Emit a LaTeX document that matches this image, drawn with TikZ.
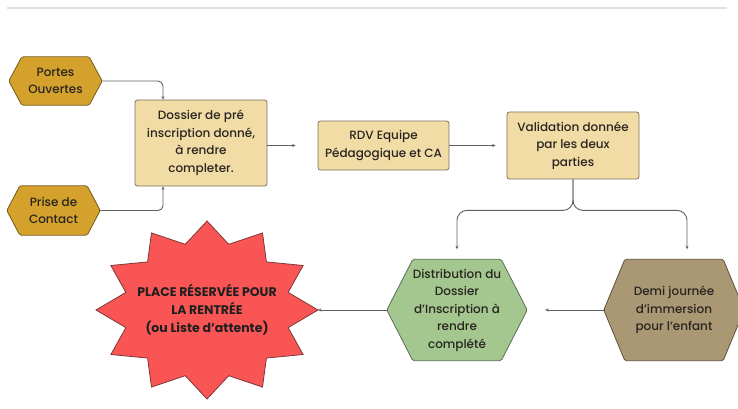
\documentclass[tikz,border=0pt]{standalone}
\usepackage{fontspec}
\setmainfont{Poppins}[UprightFont=* Medium, BoldFont=* Bold]
\usetikzlibrary{arrows.meta,calc,backgrounds}
\definecolor{txt}{RGB}{40,36,32}
\definecolor{boxfill}{RGB}{242,220,166}
\definecolor{boxline}{RGB}{125,112,90}
\definecolor{goldfill}{RGB}{212,162,44}
\definecolor{goldline}{RGB}{115,90,30}
\definecolor{greenfill}{RGB}{163,199,143}
\definecolor{greenline}{RGB}{90,110,80}
\definecolor{brownfill}{RGB}{170,151,116}
\definecolor{brownline}{RGB}{95,82,60}
\definecolor{starfill}{RGB}{250,85,85}
\definecolor{starline}{RGB}{125,55,55}
\definecolor{linec}{RGB}{95,95,95}
\newcommand\hexpath[4]{%
  \draw[fill=#3, draw=#4, line width=0.8pt, rounded corners=1.5pt]
    (#1.west) -- ([xshift=#2]#1.north west) -- ([xshift=-#2]#1.north east)
    -- (#1.east) -- ([xshift=-#2]#1.south east) -- ([xshift=#2]#1.south west) -- cycle;}
\begin{document}
\begin{tikzpicture}[x=1pt,y=-1pt,
  lbl/.style={font=\fontsize{12}{17.5}\selectfont, text=txt, align=center, inner sep=0pt},
  box/.style={lbl, draw=boxline, fill=boxfill, rounded corners=2.5pt, line width=0.8pt},
  hexlbl/.style={lbl, shape=rectangle},
  startext/.style={font=\bfseries\fontsize{12.5}{18}\selectfont, text=black!88, align=center, inner sep=0pt},
  conn/.style={draw=linec, line width=0.9pt, -{Stealth[length=3.5pt,width=3pt]}}
]
\useasboundingbox (0,0) rectangle (738,409);
\clip (0,0) rectangle (738,409);
\draw[line width=1.6pt, black!12] (7,8) -- (727,8);

% nodes
\node[hexlbl, minimum width=93pt, minimum height=48pt] (po) at (55.5,81) {Portes\\Ouvertes};
\node[hexlbl, minimum width=93pt, minimum height=49pt] (pc) at (53.5,210.5) {Prise de\\Contact};
\node[box, minimum width=132pt, minimum height=86pt] (dos) at (201,143) {Dossier de pré\\inscription donné,\\à rendre\\completer.};
\node[box, minimum width=131pt, minimum height=49pt] (rdv) at (383.5,145.5) {RDV Equipe\\Pédagogique et CA};
\node[box, minimum width=132pt, minimum height=67pt] (val) at (573,145.5) {Validation donnée\\par les deux\\parties};
\node[hexlbl, minimum width=140pt, minimum height=101pt] (green) at (457,310) {Distribution du\\Dossier\\d’Inscription à\\rendre\\complété};
\node[hexlbl, minimum width=140pt, minimum height=101pt] (brown) at (674,310) {Demi journée\\d’immersion\\pour l’enfant};
\coordinate (starc) at (207,310);
\coordinate (startip) at ($(starc)+(0:111 and 89)$);
\node[startext] (star) at (starc) {PLACE RÉSERVÉE POUR\\LA RENTRÉE\\(ou Liste d’attente)};

\begin{scope}[on background layer]
  \hexpath{po}{13pt}{goldfill}{goldline}
  \hexpath{pc}{13pt}{goldfill}{goldline}
  \hexpath{green}{26pt}{greenfill}{greenline}
  \hexpath{brown}{21pt}{brownfill}{brownline}
  \draw[fill=starfill, draw=starline, line width=0.8pt, line join=miter]
    ($(starc)+(-15:84 and 68)$)
    \foreach \a in {0,30,...,330} { -- ($(starc)+(\a:111 and 89)$) -- ($(starc)+(\a+15:84 and 68)$) } -- cycle;
\end{scope}

% connectors
\draw[conn, rounded corners=5pt] (po.east) -| ([xshift=-38pt]dos.north);
\draw[conn, rounded corners=5pt] (pc.east) -| ([xshift=-38pt]dos.south);
\draw[conn, shorten >=22pt] (dos.east |- rdv.west) -- (rdv.west);
\draw[conn, shorten >=11pt] (rdv.east) -- (val.west);
\draw[conn, rounded corners=10pt, shorten >=10pt] (val.south) -- ++(0,31) -| (green.north);
\draw[conn, rounded corners=10pt, shorten >=10pt] (val.south) -- ++(0,31) -| ([xshift=13pt]brown.north);
\draw[conn, shorten >=18pt] (brown.west) -- (green.east);
\draw[conn] (green.west) -- (startip);
\end{tikzpicture}
\end{document}
